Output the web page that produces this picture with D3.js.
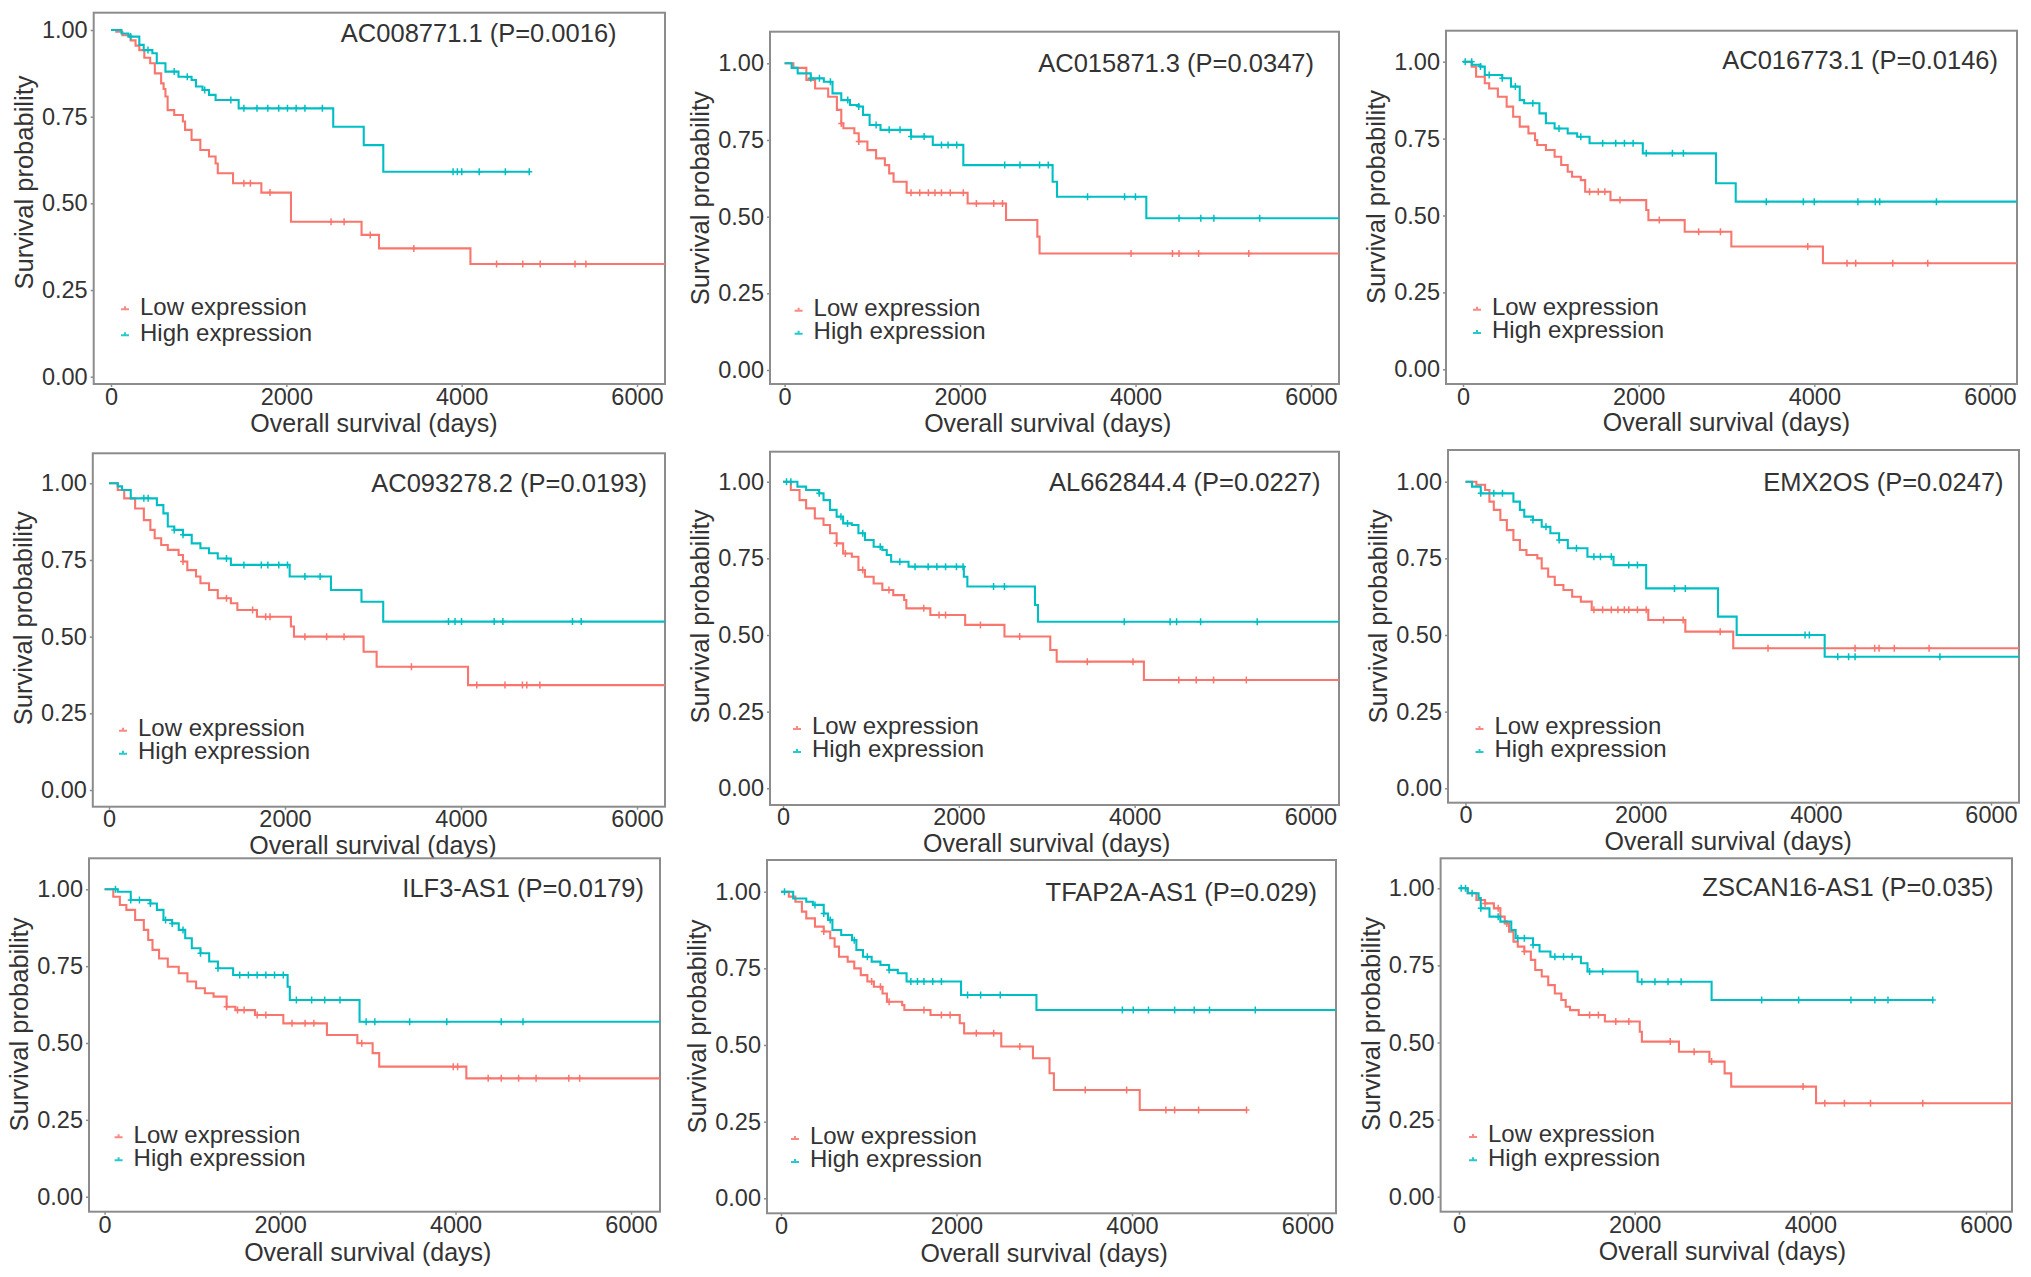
<!DOCTYPE html>
<html><head><meta charset="utf-8">
<script src="https://cdn.jsdelivr.net/npm/d3@7"></script>
<style>body{margin:0;background:#fff;} text{font-family:"Liberation Sans",Arial,Helvetica,sans-serif;}</style>
</head><body><svg id="c" width="2031" height="1277"></svg>
<script>
// ---------------- DATA ----------------
const genes = ["AC008771.1","AC015871.3","AC016773.1","AC093278.2","AL662844.4","EMX2OS","ILF3-AS1","TFAP2A-AS1","ZSCAN16-AS1"];
const pValues = ["0.0016","0.0347","0.0146","0.0193","0.0227","0.0247","0.0179","0.029","0.035"];
const seriesNames = ["Low expression","High expression"];
const xTicks = [0,2000,4000,6000];
const yTicks = [0,0.25,0.5,0.75,1];
const yTickLabels = ["0.00","0.25","0.50","0.75","1.00"];
const xTitle = "Overall survival (days)";
const yTitle = "Survival probability";

// Kaplan-Meier steps [time(days), survival] for Low expression group
const lowSteps = [
 [[0,1],[60,0.995],[130,0.985],[224,0.97],[280,0.955],[323,0.942],[380,0.92],[447,0.904],[500,0.875],[572,0.846],[600,0.83],[621,0.808],[646,0.769],[721,0.755],[820,0.736],[845,0.712],[919,0.683],[1019,0.654],[1118,0.635],[1193,0.615],[1218,0.587],[1392,0.558],[1715,0.531],[2053,0.447],[2858,0.409],[3057,0.37],[4100,0.325]],
 [[0,1],[100,0.985],[248,0.946],[348,0.918],[497,0.891],[596,0.848],[646,0.804],[670,0.788],[795,0.772],[845,0.745],[944,0.717],[1043,0.69],[1143,0.668],[1192,0.641],[1242,0.614],[1391,0.578],[2086,0.543],[2524,0.489],[2881,0.435],[2906,0.38]],
 [[0,1],[99,0.984],[149,0.951],[248,0.93],[298,0.913],[397,0.886],[497,0.854],[571,0.821],[646,0.789],[745,0.767],[820,0.745],[845,0.729],[944,0.713],[1043,0.691],[1118,0.664],[1192,0.642],[1242,0.626],[1341,0.615],[1391,0.577],[1679,0.55],[2086,0.518],[2111,0.485],[2524,0.447],[3055,0.399],[4098,0.345]],
 [[0,1],[99,0.978],[173,0.951],[297,0.918],[396,0.88],[470,0.848],[519,0.821],[593,0.799],[668,0.783],[791,0.766],[841,0.745],[890,0.717],[989,0.696],[1039,0.674],[1137,0.652],[1236,0.625],[1385,0.609],[1459,0.587],[1681,0.565],[2067,0.533],[2102,0.5],[2893,0.451],[3041,0.402],[4080,0.342]],
 [[0,1],[89,0.973],[188,0.94],[263,0.913],[362,0.88],[461,0.859],[535,0.832],[610,0.799],[684,0.766],[783,0.755],[858,0.712],[932,0.69],[1031,0.668],[1130,0.647],[1254,0.63],[1378,0.614],[1403,0.587],[1676,0.565],[2072,0.533],[2519,0.495],[3040,0.451],[3113,0.413],[4105,0.353]],
 [[0,1],[124,0.99],[224,0.973],[273,0.935],[323,0.908],[398,0.875],[472,0.842],[547,0.81],[621,0.777],[696,0.761],[820,0.75],[870,0.717],[944,0.69],[1019,0.663],[1118,0.647],[1218,0.625],[1317,0.609],[1441,0.582],[2087,0.549],[2510,0.511],[3057,0.457]],
 [[0,1],[99,0.976],[174,0.949],[248,0.933],[348,0.9],[447,0.868],[497,0.835],[546,0.803],[621,0.775],[720,0.748],[845,0.727],[944,0.7],[1043,0.678],[1143,0.662],[1242,0.651],[1391,0.618],[1491,0.607],[1714,0.591],[2037,0.564],[2534,0.526],[2881,0.499],[3055,0.467],[3130,0.423],[4123,0.385]],
 [[0,1],[89,0.984],[164,0.967],[238,0.935],[288,0.913],[387,0.886],[487,0.87],[561,0.848],[611,0.821],[661,0.788],[760,0.772],[835,0.75],[909,0.728],[984,0.707],[1058,0.69],[1157,0.668],[1207,0.641],[1381,0.63],[1406,0.614],[1704,0.598],[2037,0.571],[2087,0.538],[2510,0.495],[2871,0.457],[3060,0.408],[3110,0.353],[4088,0.288]],
 [[0,1],[99,0.984],[198,0.962],[297,0.951],[397,0.935],[471,0.908],[521,0.886],[570,0.859],[620,0.827],[669,0.811],[744,0.795],[818,0.768],[868,0.735],[942,0.714],[1016,0.686],[1091,0.659],[1165,0.638],[1215,0.616],[1264,0.605],[1363,0.589],[1661,0.568],[2058,0.535],[2082,0.503],[2504,0.47],[2851,0.438],[3024,0.4],[3099,0.357],[4065,0.303]]
];
// Kaplan-Meier steps for High expression group
const highSteps = [
 [[0,1],[120,0.99],[199,0.981],[323,0.957],[373,0.942],[472,0.933],[522,0.904],[621,0.88],[770,0.865],[919,0.856],[969,0.837],[1044,0.827],[1118,0.813],[1193,0.798],[1456,0.774],[2535,0.721],[2883,0.668],[3106,0.591]],
 [[0,1],[80,0.985],[149,0.967],[298,0.951],[447,0.94],[546,0.902],[646,0.88],[745,0.864],[845,0.859],[894,0.832],[969,0.799],[1093,0.783],[1441,0.761],[1689,0.734],[2037,0.668],[3055,0.614],[3105,0.565],[4123,0.495]],
 [[0,1],[100,0.99],[199,0.984],[248,0.957],[447,0.946],[546,0.919],[646,0.875],[696,0.865],[870,0.832],[944,0.8],[1043,0.783],[1192,0.767],[1300,0.756],[1441,0.735],[2047,0.702],[2881,0.605],[3105,0.545]],
 [[0,1],[100,0.99],[148,0.978],[247,0.951],[544,0.929],[618,0.902],[668,0.859],[742,0.848],[841,0.832],[940,0.804],[1039,0.788],[1137,0.772],[1236,0.755],[1385,0.734],[2053,0.696],[2522,0.652],[2869,0.614],[3116,0.549]],
 [[0,1],[164,0.984],[263,0.973],[412,0.962],[461,0.94],[535,0.908],[610,0.886],[684,0.864],[783,0.859],[858,0.832],[932,0.81],[1031,0.788],[1130,0.777],[1180,0.761],[1230,0.739],[1428,0.723],[2057,0.69],[2097,0.658],[2866,0.598],[2900,0.543]],
 [[0,1],[75,0.984],[174,0.962],[547,0.935],[621,0.908],[671,0.886],[770,0.875],[870,0.853],[969,0.832],[1069,0.81],[1168,0.783],[1392,0.755],[1690,0.728],[2063,0.652],[2883,0.56],[3096,0.5],[4101,0.429]],
 [[0,1],[150,0.992],[298,0.965],[522,0.954],[596,0.933],[671,0.9],[770,0.889],[845,0.868],[919,0.841],[994,0.808],[1093,0.792],[1192,0.765],[1292,0.743],[1465,0.721],[2086,0.683],[2111,0.64],[2906,0.569]],
 [[0,1],[139,0.978],[288,0.967],[363,0.957],[487,0.929],[536,0.908],[586,0.875],[686,0.859],[810,0.842],[859,0.81],[934,0.788],[1033,0.772],[1133,0.761],[1232,0.745],[1331,0.734],[1431,0.707],[2052,0.663],[2911,0.614]],
 [[0,1],[99,0.984],[223,0.968],[248,0.935],[347,0.908],[471,0.892],[595,0.865],[645,0.838],[843,0.816],[917,0.795],[1041,0.778],[1388,0.757],[1463,0.73],[2033,0.697],[2876,0.638]]
];
// last follow-up time of each curve
const lowEnd  = [6500,6500,6500,6500,6500,6500,6500,5305,6500];
const highEnd = [4771,6500,6500,6500,6500,6500,6500,6500,5394];
// censoring times
const lowCensor = [
 [1516,1590,1814,2510,2659,2957,3454,4398,4697,4896,5293,5417],
 [646,845,1441,1540,1639,1714,1788,1888,2037,2186,2384,2484,3949,4421,4496,4719,5291],
 [1441,1540,1615,1788,2235,2683,2931,3925,4372,4471,4893,5291],
 [841,1335,1632,1780,1830,2226,2473,2671,3437,4179,4500,4698,4748,4896],
 [610,709,907,1205,1601,1775,1849,2246,2692,3461,3981,4502,4700,4898,5270],
 [1466,1566,1665,1740,1814,1864,1963,2063,2261,2485,2908,3454,4448,4672,4722,4896,5293],
 [1391,1515,1590,1739,1838,2136,2285,2385,2931,3974,4024,4372,4521,4719,4918,5291,5415],
 [487,1033,1133,1232,1629,1828,1927,2226,2424,2722,3467,3939,4386,4486,4759,5305],
 [297,446,545,744,1487,1587,1785,1934,2405,2677,2876,3917,4165,4388,4685,5280]
];
const highCensor = [
 [224,422,721,870,1069,1367,1516,1665,1789,1913,2013,2112,2212,2411,3902,3951,4001,4200,4498,4771],
 [298,397,522,720,845,1043,1192,1316,1441,1590,1788,1863,1962,2509,2683,2906,3005,3453,3875,3999,4496,4744,4893,5415],
 [25,99,199,298,447,596,795,1093,1341,1590,1739,1838,1937,2086,2384,2509,3453,3875,3999,4496,4694,4744,5390],
 [396,445,742,841,1335,1533,1731,1805,1929,2028,2226,2399,3858,3932,4006,4377,4476,5267,5366],
 [40,89,412,659,734,907,1106,1329,1502,1651,1750,1849,1973,2048,2395,2519,3882,4403,4477,4750,5394],
 [174,323,422,770,919,1069,1267,1466,1541,1665,1864,1963,2386,2510,3877,3926,4250,4374,4448,5417],
 [124,298,397,522,695,770,894,1093,1292,1540,1639,1739,1838,1937,2037,2186,2360,2509,2683,2981,3080,3477,3900,4521,4769],
 [40,387,487,561,835,984,1232,1480,1555,1629,1729,1828,2126,2275,2499,3890,4014,4188,4486,4709,4883,5405],
 [25,74,149,248,446,669,744,843,1091,1190,1289,1487,1636,2082,2231,2380,2529,3446,3867,4462,4735,4884,5394]
];

// ---------------- LAYOUT (pixels) ----------------
// box: left, top, right, bottom; x0/x1: pixel of day 0 / 6000; y0/y1: pixel of surv 0 / 1
// tb / xb: offsets below box of tick-label and axis-title baselines
const layout = [
 {l:93.7, t:12.7, r:665,  b:384,   x0:111,   x1:637,   y0:376.7, y1:30,    tr:616.6, tc:33.3,  tb:21, xb:48},
 {l:770,  t:31.7, r:1339, b:384,   x0:784.6, x1:1311,  y0:370,   y1:63.3,  tr:1314,  tc:63.3,  tb:21, xb:48},
 {l:1446, t:30.7, r:2017, b:384,   x0:1463,  x1:1990,  y0:369.3, y1:61.7,  tr:1998,  tc:60,    tb:21, xb:47},
 {l:92.8, t:453.3,r:665,  b:806.7, x0:109,   x1:637,   y0:790,   y1:483.3, tr:647,   tc:483.3, tb:20, xb:47},
 {l:770,  t:451.7,r:1339, b:805,   x0:783,   x1:1310.5,y0:788.3, y1:481.7, tr:1320.5,tc:481.7, tb:20, xb:47},
 {l:1448, t:450,  r:2019, b:802.7, x0:1465.5,x1:1991,  y0:788.3, y1:481.7, tr:2003.6,tc:481.7, tb:20, xb:47},
 {l:89,   t:858.3,r:660,  b:1211.7,x0:104.6, x1:631,   y0:1196.7,y1:889.3, tr:644,   tc:888.3, tb:21, xb:49},
 {l:767,  t:860,  r:1336, b:1213.3,x0:781,   x1:1307.5,y0:1198.3,y1:891.7, tr:1317,  tc:891.7, tb:21, xb:49},
 {l:1440.6,t:858.3,r:2012,b:1211.7,x0:1459,  x1:1986,  y0:1196.7,y1:888.3, tr:1993.6,tc:887.3, tb:21, xb:48}
];
const colors = ["#F8766D","#00BFC4"];
const textColor = "#333";
const borderColor = "#8c8c8c";

// ---------------- DRAW ----------------
const svg = d3.select("#c");
svg.append("rect").attr("width",2031).attr("height",1277).attr("fill","#fff");
const defs = svg.append("defs");

function survAt(steps, t){ let s=1; for(const p of steps){ if(p[0]<=t) s=p[1]; else break; } return s; }

genes.forEach((gene,i)=>{
  const L = layout[i];
  const x = d3.scaleLinear().domain([0,6000]).range([L.x0,L.x1]);
  const y = d3.scaleLinear().domain([0,1]).range([L.y0,L.y1]);
  const g = svg.append("g");

  defs.append("clipPath").attr("id","clip"+i).append("rect")
    .attr("x",L.l).attr("y",L.t).attr("width",L.r-L.l).attr("height",L.b-L.t);

  // axes
  const ya = g.append("g").attr("transform",`translate(${L.l},0)`)
    .call(d3.axisLeft(y).tickValues(yTicks).tickFormat((d,k)=>yTickLabels[k]).tickSize(3).tickPadding(3));
  ya.select(".domain").remove();
  ya.selectAll("line").attr("stroke",borderColor).attr("stroke-width",1.5);
  ya.selectAll("text").attr("font-size",23.5).attr("fill",textColor).attr("font-family","Liberation Sans, Arial, sans-serif");

  const xa = g.append("g").attr("transform",`translate(0,${L.b})`)
    .call(d3.axisBottom(x).tickValues(xTicks).tickFormat(d3.format("d")).tickSize(3));
  xa.select(".domain").remove();
  xa.selectAll("line").attr("stroke",borderColor).attr("stroke-width",1.5);
  xa.selectAll("text").attr("font-size",23.5).attr("fill",textColor).attr("font-family","Liberation Sans, Arial, sans-serif")
    .attr("dy",null).attr("y",L.tb);

  // border
  g.append("rect").attr("x",L.l).attr("y",L.t).attr("width",L.r-L.l).attr("height",L.b-L.t)
    .attr("fill","none").attr("stroke",borderColor).attr("stroke-width",2);

  // curves
  const plot = g.append("g").attr("clip-path",`url(#clip${i})`);
  const line = d3.line().x(d=>x(d[0])).y(d=>y(d[1])).curve(d3.curveStepAfter);
  [[lowSteps[i],lowEnd[i],lowCensor[i]],[highSteps[i],highEnd[i],highCensor[i]]].forEach(([steps,end,cens],k)=>{
    const pts = steps.concat([[end, steps[steps.length-1][1]]]);
    plot.append("path").attr("d",line(pts)).attr("fill","none")
      .attr("stroke",colors[k]).attr("stroke-width",2.1);
    plot.selectAll(null).data(cens).enter().append("path")
      .attr("d",t=>{const cx=x(t), cy=y(survAt(steps,t)); return `M${cx},${cy-3.5}V${cy+3.5}M${cx-3},${cy}H${cx+3}`;})
      .attr("stroke",colors[k]).attr("stroke-width",1.5).attr("fill","none");
  });

  // panel title
  g.append("text").attr("x",L.tr).attr("y",L.tc).attr("dy","0.35em").attr("text-anchor","end")
    .attr("font-size",25.5).attr("fill",textColor).text(`${gene} (P=${pValues[i]})`);

  // legend
  const legY = [0.203,0.128];
  seriesNames.forEach((nm,k)=>{
    const ly = y(legY[k]);
    const kx = L.x0+14;
    g.append("path").attr("d",`M${kx-4},${ly+3}H${kx+4}M${kx},${ly}V${ly+3}`)
      .attr("stroke",colors[k]).attr("stroke-width",2).attr("fill","none").attr("opacity",0.85);
    g.append("text").attr("x",L.x0+29).attr("y",ly).attr("dy","0.35em")
      .attr("font-size",24).attr("fill",textColor).text(nm);
  });

  // axis titles
  g.append("text").attr("x",(L.x0+L.x1)/2).attr("y",L.b+L.xb).attr("text-anchor","middle")
    .attr("font-size",25).attr("fill",textColor).text(xTitle);
  const ty = y(0.56), tx = L.l-61;
  g.append("text").attr("transform",`translate(${tx},${ty}) rotate(-90)`).attr("text-anchor","middle")
    .attr("font-size",25.5).attr("fill",textColor).text(yTitle);
});
</script></body></html>
